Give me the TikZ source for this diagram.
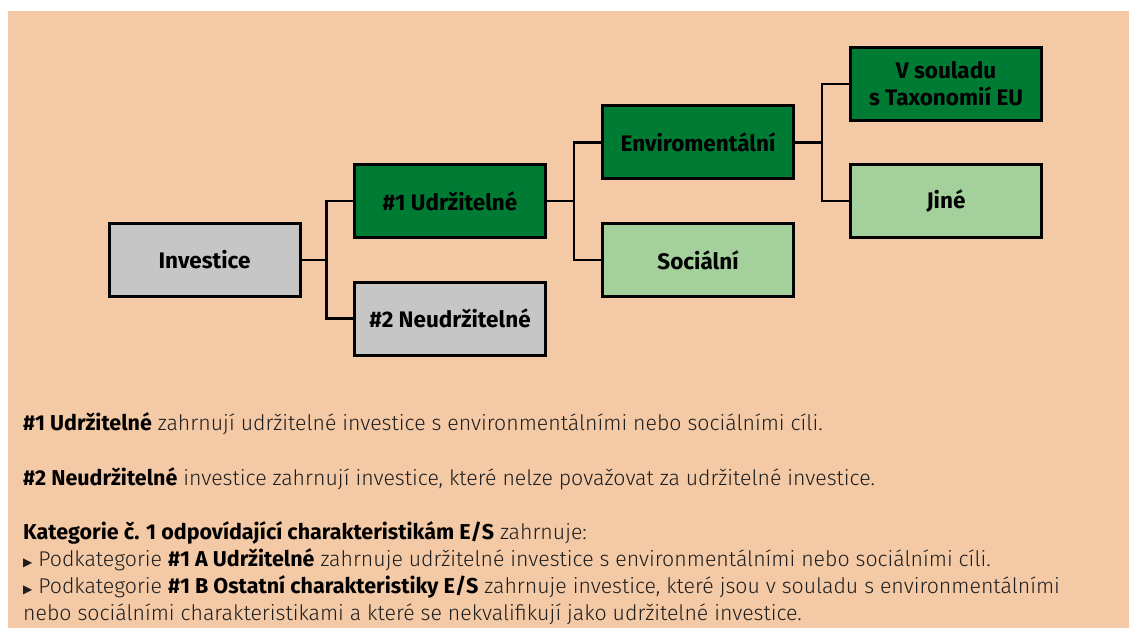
\documentclass[tikz,border=0pt]{standalone}
\usepackage{fontspec}
\setmainfont{Fira Sans}
\newfontfamily\lightfont{Fira Sans Light}
\newfontfamily\dv{DejaVu Sans}
\definecolor{bgpeach}{HTML}{F3C9A6}
\definecolor{darkgreen}{HTML}{007B33}
\definecolor{lightgreen}{HTML}{A4D09C}
\definecolor{boxgray}{HTML}{C6C6C6}
\definecolor{txt}{HTML}{1E1E1E}
\tikzset{
  catbox/.style={draw=black, line width=3pt, minimum width=191pt, minimum height=73pt,
    inner sep=0pt, align=center, font=\fontsize{22.5}{27}\selectfont\bfseries},
  link/.style={draw=black, line width=2.6pt},
  para/.style={anchor=base west, inner sep=0pt, text=txt, font=\fontsize{21.3}{27}\selectfont\lightfont}
}
\newcommand{\B}[1]{{\rmfamily\bfseries\fontsize{21.5}{27}\selectfont\color{black}#1}}
\newcommand{\bul}{{\dv\fontsize{12}{12}\selectfont ▶}\ }
\begin{document}
\begin{tikzpicture}[x=1pt,y=-1pt]
\useasboundingbox (0,0) rectangle (1129,628);
\fill[white] (0,0) rectangle (1129,628);
\fill[bgpeach] (8,11) rectangle (1129,628);

\node[catbox, fill=boxgray] (inv) at (204.5,260) {Investice};
\node[catbox, fill=darkgreen] (u1) at (450,201) {\#1 Udržitelné};
\node[catbox, fill=boxgray] (n2) at (450,318.5) {\#2 Neudržitelné};
\node[catbox, fill=darkgreen] (env) at (698,142.5) {Enviromentální};
\node[catbox, fill=lightgreen] (soc) at (698,260) {Sociální};
\node[catbox, fill=darkgreen] (vs) at (946,84) {V souladu\\s Taxonomií EU};
\node[catbox, fill=lightgreen] (jine) at (946,201) {Jiné};

\coordinate (j1) at ([xshift=25pt]inv.east);
\coordinate (j2) at ([xshift=27pt]u1.east);
\coordinate (j3) at ([xshift=27pt]env.east);
\draw[link] (inv.east) -- (j1) |- (u1.west);
\draw[link] (j1) |- (n2.west);
\draw[link] (u1.east) -- (j2) |- (env.west);
\draw[link] (j2) |- (soc.west);
\draw[link] (env.east) -- (j3) |- (vs.west);
\draw[link] (j3) |- (jine.west);

\node[para] (t1) at (23,430) {\B{\#1 Udržitelné} zahrnují udržitelné investice s environmentálními nebo sociálními cíli.};
\node[para] (t2) at (23,485) {\B{\#2 Neudržitelné} investice zahrnují investice, které nelze považovat za udržitelné investice.};
\node[para] (t3) at (23,539) {\B{Kategorie č. 1 odpovídající charakteristikám E/S} zahrnuje:};
\node[para] (t4) at (23,566) {\bul Podkategorie \B{\#1 A Udržitelné} zahrnuje udržitelné investice s environmentálními nebo sociálními cíli.};
\node[para] (t5) at (23,593) {\bul Podkategorie \B{\#1 B Ostatní charakteristiky E/S} zahrnuje investice, které jsou v souladu s environmentálními};
\node[para] (t6) at (23,620) {nebo sociálními charakteristikami a které se nekvalifikují jako udržitelné investice.};
\end{tikzpicture}
\end{document}
